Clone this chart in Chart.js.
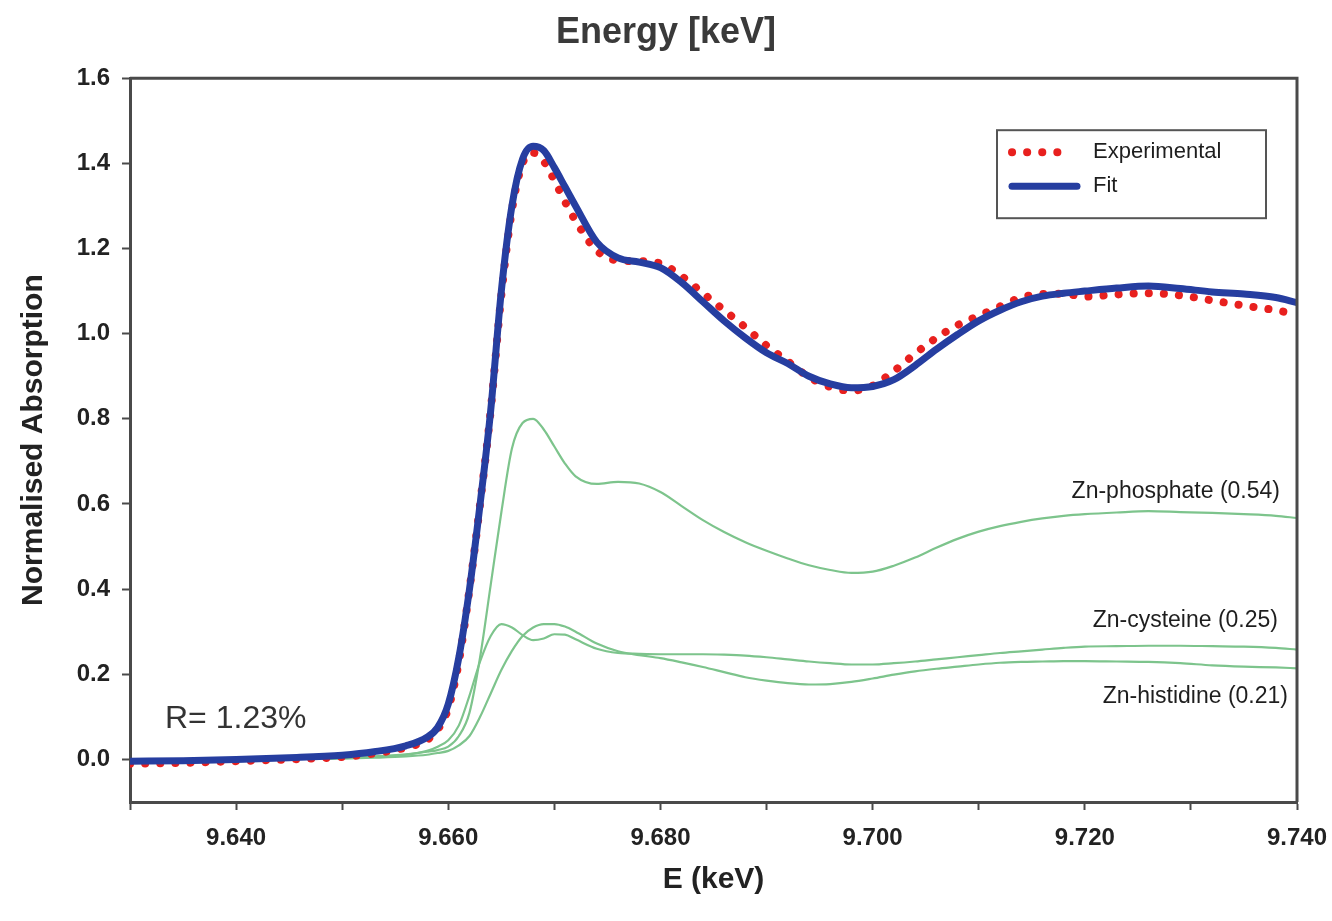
<!DOCTYPE html>
<html>
<head>
<meta charset="utf-8">
<script src="https://cdn.jsdelivr.net/npm/chart.js@4.4.1/dist/chart.umd.min.js"></script>
<style>
    body { margin: 0; background: #fff; }
</style>
</head>
<body>
<canvas id="XanesGraph" width="1332" height="921"></canvas>
<script>
const energy = [9.630, 9.635, 9.640, 9.645, 9.650, 9.653, 9.656, 9.658, 9.659, 9.660,
    9.661, 9.662, 9.663, 9.664, 9.665, 9.666, 9.667, 9.668, 9.669, 9.670, 9.671, 9.672,
    9.674, 9.676, 9.678, 9.680, 9.682, 9.684, 9.686, 9.688, 9.690, 9.692, 9.694, 9.696,
    9.698, 9.700, 9.702, 9.704, 9.706, 9.708, 9.710, 9.712, 9.714, 9.716, 9.718, 9.720,
    9.723, 9.726, 9.729, 9.732, 9.735, 9.738, 9.740];

const experimental = [-0.010, -0.008, -0.004, 0.000, 0.006, 0.014, 0.028, 0.046, 0.070, 0.120,
    0.23, 0.40, 0.60, 0.82, 1.09, 1.29, 1.40, 1.425, 1.405, 1.36, 1.31, 1.265,
    1.195, 1.172, 1.170, 1.165, 1.135, 1.095, 1.055, 1.015, 0.972, 0.935, 0.898, 0.875,
    0.866, 0.878, 0.912, 0.953, 0.990, 1.020, 1.042, 1.064, 1.085, 1.093, 1.094, 1.087,
    1.092, 1.095, 1.090, 1.078, 1.066, 1.055, 1.045];

const fit = [-0.004, -0.003, 0.000, 0.004, 0.010, 0.018, 0.032, 0.052, 0.075, 0.13,
    0.24, 0.40, 0.60, 0.82, 1.10, 1.30, 1.41, 1.44, 1.43, 1.39, 1.345, 1.30,
    1.215, 1.178, 1.168, 1.155, 1.12, 1.075, 1.03, 0.99, 0.955, 0.93, 0.90, 0.882,
    0.873, 0.876, 0.892, 0.925, 0.963, 0.998, 1.03, 1.055, 1.075, 1.088, 1.095, 1.10,
    1.107, 1.112, 1.106, 1.098, 1.093, 1.085, 1.073];

const znPhosphate = [0.000, 0.000, 0.001, 0.002, 0.004, 0.007, 0.012, 0.018, 0.022, 0.030,
    0.055, 0.11, 0.24, 0.41, 0.58, 0.73, 0.79, 0.80, 0.775, 0.735, 0.695, 0.665,
    0.647, 0.652, 0.648, 0.628, 0.595, 0.562, 0.534, 0.510, 0.490, 0.472, 0.456, 0.445,
    0.438, 0.441, 0.455, 0.474, 0.497, 0.518, 0.535, 0.548, 0.558, 0.566, 0.572, 0.576,
    0.580, 0.583, 0.581, 0.579, 0.576, 0.572, 0.567];

const znCysteine = [0.000, 0.000, 0.001, 0.002, 0.003, 0.006, 0.011, 0.020, 0.030, 0.045,
    0.08, 0.15, 0.23, 0.29, 0.318, 0.31, 0.292, 0.28, 0.284, 0.294, 0.293, 0.282,
    0.260, 0.250, 0.248, 0.247, 0.247, 0.247, 0.246, 0.244, 0.240, 0.235, 0.230, 0.226,
    0.223, 0.223, 0.226, 0.230, 0.235, 0.240, 0.245, 0.250, 0.254, 0.258, 0.262, 0.265,
    0.266, 0.267, 0.267, 0.266, 0.265, 0.262, 0.258];

const znHistidine = [0.000, 0.000, 0.000, 0.001, 0.002, 0.004, 0.007, 0.011, 0.015, 0.020,
    0.033, 0.055, 0.10, 0.155, 0.21, 0.255, 0.29, 0.31, 0.318, 0.318, 0.312, 0.300,
    0.272, 0.254, 0.245, 0.238, 0.228, 0.217, 0.205, 0.193, 0.185, 0.179, 0.176, 0.177,
    0.182, 0.190, 0.199, 0.207, 0.213, 0.218, 0.223, 0.227, 0.229, 0.230, 0.231, 0.231,
    0.230, 0.229, 0.226, 0.221, 0.218, 0.216, 0.214];

const xTicks = [9.630, 9.640, 9.650, 9.660, 9.670, 9.680, 9.690, 9.700, 9.710, 9.720, 9.730, 9.740];
const xTickLabels = ['', '9.640', '', '9.660', '', '9.680', '', '9.700', '', '9.720', '', '9.740'];
const yTicks = [0.0, 0.2, 0.4, 0.6, 0.8, 1.0, 1.2, 1.4, 1.6];
const yTickLabels = ['0.0', '0.2', '0.4', '0.6', '0.8', '1.0', '1.2', '1.4', '1.6'];

const FONT = "'Liberation Sans', Arial, sans-serif";
const GREEN = 'rgb(125, 196, 140)';
const RED = 'rgb(232, 32, 30)';
const BLUE = 'rgb(38, 62, 160)';
const AXIS = '#4a4a4a';

const toPoints = (ys) => energy.map((e, i) => ({ x: e, y: ys[i] }));

// text drawn inside the plot (y given in data units so it follows the scale)
const curveLabels = [
    { text: 'Zn-phosphate (0.54)', y: 0.63, inset: 17 },
    { text: 'Zn-cysteine (0.25)', y: 0.325, inset: 19 },
    { text: 'Zn-histidine (0.21)', y: 0.148, inset: 9 }
];

const plotDecor = {
    id: 'plotDecor',
    afterDraw(chart) {
        const { ctx, chartArea, scales } = chart;
        ctx.save();

        // top and right frame lines
        ctx.strokeStyle = AXIS;
        ctx.lineWidth = 3;
        ctx.beginPath();
        ctx.moveTo(chartArea.left, chartArea.top);
        ctx.lineTo(chartArea.right, chartArea.top);
        ctx.lineTo(chartArea.right, chartArea.bottom);
        ctx.stroke();

        // component labels
        ctx.fillStyle = '#1e1e1e';
        ctx.font = '23px ' + FONT;
        ctx.textAlign = 'right';
        ctx.textBaseline = 'middle';
        curveLabels.forEach(l => {
            ctx.fillText(l.text, chartArea.right - l.inset, scales.y.getPixelForValue(l.y));
        });

        // R factor
        ctx.fillStyle = '#333';
        ctx.font = '32px ' + FONT;
        ctx.textAlign = 'left';
        ctx.fillText('R= 1.23%', scales.x.getPixelForValue(9.6333), scales.y.getPixelForValue(0.094));

        // legend box
        const bx = chartArea.right - 300, by = chartArea.top + 52, bw = 269, bh = 88;
        ctx.fillStyle = '#fff';
        ctx.fillRect(bx, by, bw, bh);
        ctx.strokeStyle = '#555';
        ctx.lineWidth = 2;
        ctx.strokeRect(bx, by, bw, bh);

        const items = [chart.data.datasets[0], chart.data.datasets[1]];
        items.forEach((ds, i) => {
            const ry = by + 22 + i * 34;
            ctx.beginPath();
            ctx.strokeStyle = ds.borderColor;
            ctx.lineWidth = ds.borderWidth;
            ctx.lineCap = ds.borderCapStyle || 'butt';
            ctx.setLineDash(ds.borderDash || []);
            ctx.moveTo(bx + 15, ry);
            ctx.lineTo(bx + (i === 0 ? 72 : 80), ry);
            ctx.stroke();
            ctx.setLineDash([]);
            ctx.fillStyle = '#1e1e1e';
            ctx.font = '22px ' + FONT;
            ctx.textAlign = 'left';
            ctx.fillText(ds.label, bx + 96, ry);
        });
        ctx.restore();
    }
};

const ctx = document.getElementById('XanesGraph');

new Chart(ctx, {
    type: 'line',
    data: {
        datasets: [
            {
                label: 'Experimental',
                data: toPoints(experimental),
                borderColor: RED,
                borderWidth: 8,
                borderDash: [0.1, 15],
                borderCapStyle: 'round',
                pointRadius: 0,
                cubicInterpolationMode: 'monotone',
                order: 1
            },
            {
                label: 'Fit',
                data: toPoints(fit),
                borderColor: BLUE,
                borderWidth: 7,
                borderCapStyle: 'round',
                pointRadius: 0,
                cubicInterpolationMode: 'monotone',
                order: 0
            },
            {
                label: 'Zn-phosphate',
                data: toPoints(znPhosphate),
                borderColor: GREEN,
                borderWidth: 2.2,
                pointRadius: 0,
                cubicInterpolationMode: 'monotone',
                order: 2
            },
            {
                label: 'Zn-cysteine',
                data: toPoints(znCysteine),
                borderColor: GREEN,
                borderWidth: 2.2,
                pointRadius: 0,
                cubicInterpolationMode: 'monotone',
                order: 2
            },
            {
                label: 'Zn-histidine',
                data: toPoints(znHistidine),
                borderColor: GREEN,
                borderWidth: 2.2,
                pointRadius: 0,
                cubicInterpolationMode: 'monotone',
                order: 2
            }
        ]
    },
    options: {
        responsive: false,
        animation: false,
        layout: { padding: { top: 0, right: 0, bottom: 0, left: 0 } },
        plugins: {
            legend: { display: false },
            tooltip: { enabled: false },
            title: {
                display: true,
                text: 'Energy [keV]',
                color: '#3a3a3a',
                font: { family: FONT, size: 36, weight: 'bold' },
                padding: { top: 11, bottom: 24 }
            }
        },
        scales: {
            x: {
                type: 'linear',
                min: 9.630,
                max: 9.740,
                afterBuildTicks: (scale) => { scale.ticks = xTicks.map(v => ({ value: v })); },
                afterFit: (scale) => {
                    scale.height = 119;
                    scale.paddingRight = 35;
                },
                ticks: {
                    autoSkip: false,
                    maxRotation: 0,
                    padding: 14,
                    color: '#222',
                    font: { family: FONT, size: 24, weight: 'bold' },
                    callback: (value, index) => xTickLabels[index]
                },
                grid: { drawOnChartArea: false, drawTicks: true, tickLength: 8, tickColor: AXIS, tickWidth: 2 },
                border: { display: true, color: AXIS, width: 3 },
                title: {
                    display: true,
                    text: 'E (keV)',
                    color: '#222',
                    font: { family: FONT, size: 30, weight: 'bold' },
                    padding: { top: 0, bottom: 23 }
                }
            },
            y: {
                type: 'linear',
                min: -0.1,
                max: 1.6,
                afterBuildTicks: (scale) => { scale.ticks = yTicks.map(v => ({ value: v })); },
                afterFit: (scale) => { scale.width = 130; },
                ticks: {
                    padding: 12,
                    color: '#222',
                    font: { family: FONT, size: 24, weight: 'bold' },
                    callback: (value, index) => yTickLabels[index]
                },
                grid: { drawOnChartArea: false, drawTicks: true, tickLength: 8, tickColor: AXIS, tickWidth: 2 },
                border: { display: true, color: AXIS, width: 3 },
                title: {
                    display: true,
                    text: 'Normalised Absorption',
                    color: '#222',
                    font: { family: FONT, size: 30, weight: 'bold' },
                    padding: { top: 16, bottom: 0 }
                }
            }
        }
    },
    plugins: [plotDecor]
});
</script>
</body>
</html>
